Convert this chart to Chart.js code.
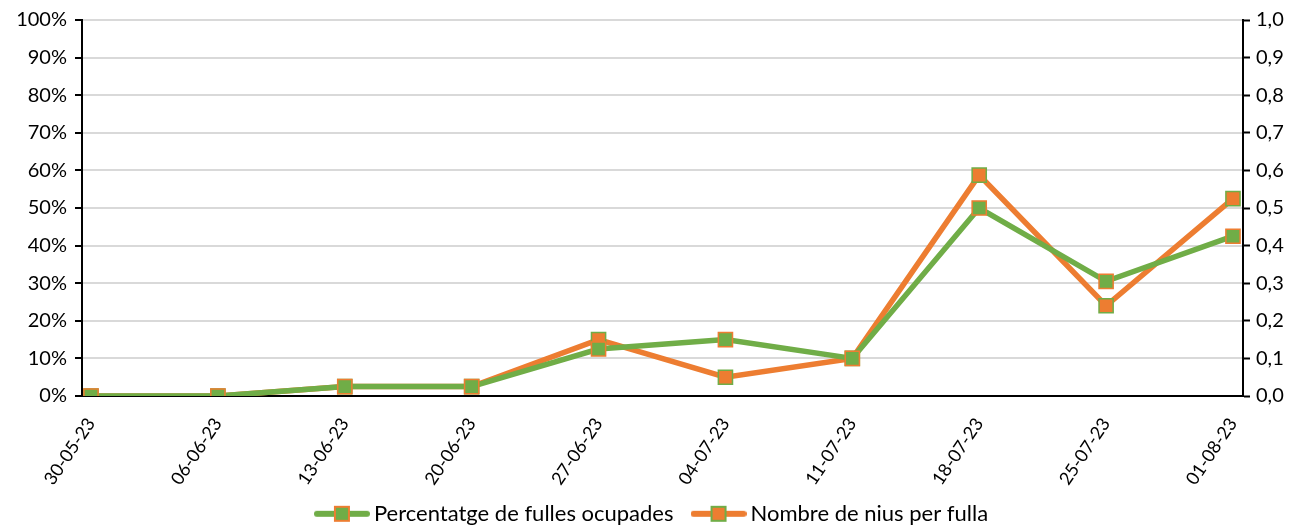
<!DOCTYPE html>
<html>
<head>
<meta charset="utf-8">
<script src="https://cdn.jsdelivr.net/npm/chart.js@4"></script>
<style>
  html, body { margin: 0; padding: 0; background: #fff; }
  #wrap { width: 1309px; height: 529px; }
</style>
</head>
<body>
<div id="wrap"><canvas id="LineGraph"></canvas></div>
<script>
const dates = ['30-05-23', '06-06-23', '13-06-23', '20-06-23', '27-06-23', '04-07-23', '11-07-23', '18-07-23', '25-07-23', '01-08-23'];
const fullesOcupades = [0, 0, 0.025, 0.025, 0.125, 0.15, 0.10, 0.50, 0.305, 0.425];
const niusPerFulla = [0, 0, 0.025, 0.025, 0.15, 0.05, 0.10, 0.5875, 0.24, 0.525];

const green = '#70ad47';
const orange = '#ed7d31';

// legend symbol: line with a square marker in the middle
function legendIcon(line, fill, border) {
    const c = document.createElement('canvas');
    c.width = 56; c.height = 18;
    const g = c.getContext('2d');
    g.strokeStyle = line; g.lineWidth = 6; g.lineCap = 'round';
    g.beginPath(); g.moveTo(3, 9); g.lineTo(53, 9); g.stroke();
    g.fillStyle = fill; g.fillRect(20, 1, 16, 16);
    g.strokeStyle = border; g.lineWidth = 2; g.strokeRect(21, 2, 14, 14);
    return c;
}

const legendPad = 24;

// push the legend row down to where the reference has it
const legendShift = {
    id: 'legendShift',
    afterLayout(chart) {
        chart.legend.top = 516 - legendPad - 13.2;
    }
};

const ctx = document.getElementById('LineGraph');

new Chart(ctx, {
    type: 'line',
    data: {
        datasets: [{
            label: 'Percentatge de fulles ocupades',
            data: fullesOcupades.map((v, i) => ({ x: i, y: v })),
            borderColor: green,
            borderWidth: 5.5,
            pointStyle: 'rect',
            pointRadius: 10,
            pointHoverRadius: 10,
            pointBackgroundColor: green,
            pointBorderColor: orange,
            pointBorderWidth: 1.5,
            yAxisID: 'y',
            tension: 0
        },
        {
            label: 'Nombre de nius per fulla',
            data: niusPerFulla.map((v, i) => ({ x: i, y: v })),
            borderColor: orange,
            borderWidth: 5.5,
            pointStyle: 'rect',
            pointRadius: 10,
            pointHoverRadius: 10,
            pointBackgroundColor: orange,
            pointBorderColor: green,
            pointBorderWidth: 1.5,
            yAxisID: 'y1',
            tension: 0
        }]
    },
    options: {
        responsive: true,
        maintainAspectRatio: false,
        animation: false,
        layout: { padding: { top: 9, left: 0, right: 0, bottom: 0 } },
        scales: {
            x: {
                type: 'linear',
                min: -0.071,
                max: 9.079,
                afterBuildTicks: (axis) => {
                    axis.ticks = dates.map((d, i) => ({ value: i }));
                },
                afterFit: (axis) => { axis.height = 93; },
                grid: { display: false, drawTicks: false },
                border: { color: '#000', width: 2 },
                ticks: {
                    autoSkip: false,
                    maxRotation: 56,
                    minRotation: 56,
                    padding: 18,
                    color: '#000',
                    font: { family: 'Lato', size: 18 },
                    callback: (v) => dates[v]
                }
            },
            y: {
                position: 'left',
                min: 0,
                max: 1,
                afterFit: (axis) => { axis.width = 82; },
                grid: { color: '#d9d9d9', lineWidth: 2, tickLength: 7, tickColor: '#000', tickWidth: 2 },
                border: { color: '#000', width: 2 },
                ticks: {
                    stepSize: 0.1,
                    color: '#000',
                    padding: 8,
                    font: { family: 'Lato', size: 20 },
                    callback: (v) => Math.round(v * 100) + '%'
                }
            },
            y1: {
                position: 'right',
                min: 0,
                max: 1,
                afterFit: (axis) => { axis.width = 66; },
                grid: { drawOnChartArea: false, tickLength: 7, tickColor: '#000', tickWidth: 2 },
                border: { color: '#000', width: 2 },
                ticks: {
                    stepSize: 0.1,
                    color: '#000',
                    padding: 6,
                    font: { family: 'Lato', size: 20 },
                    callback: (v) => v.toFixed(1).replace('.', ',')
                }
            }
        },
        plugins: {
            legend: {
                position: 'bottom',
                maxHeight: 40,
                labels: {
                    usePointStyle: true,
                    pointStyleWidth: 42,
                    color: '#000',
                    padding: legendPad,
                    font: { family: 'Lato', size: 22 },
                    generateLabels: (chart) => chart.data.datasets.map((ds, i) => ({
                        text: ds.label,
                        pointStyle: i === 0 ? legendIcon(green, green, orange) : legendIcon(orange, orange, green),
                        fillStyle: ds.borderColor,
                        strokeStyle: ds.borderColor,
                        lineWidth: 0,
                        fontColor: '#000',
                        datasetIndex: i
                    }))
                }
            },
            tooltip: { enabled: false }
        }
    },
    plugins: [legendShift]
});
</script>
</body>
</html>
